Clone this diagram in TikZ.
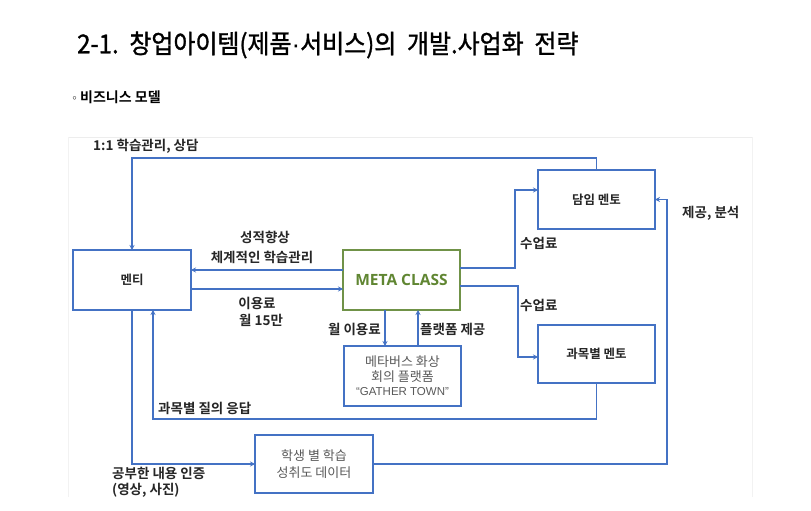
\documentclass[tikz,border=0pt]{standalone}
\usepackage{fontspec}
\setmainfont{Noto Sans CJK KR}[BoldFont={Noto Sans CJK KR Bold}]
\newfontfamily\titlefont{Noto Sans CJK KR}[FakeBold=1.2, FakeStretch=0.92]
\newfontfamily\latinfont{Liberation Sans}
\newfontfamily\metafont{Open Sans}[BoldFont={Open Sans Bold}]
\usetikzlibrary{arrows.meta,calc}
\definecolor{lineblue}{RGB}{68,114,196}
\definecolor{metagreen}{RGB}{112,146,72}
\definecolor{metatext}{RGB}{96,134,50}
\definecolor{labelgray}{RGB}{38,38,38}
\definecolor{boxgray}{RGB}{89,89,89}
\tikzset{
  blockbox/.style={draw=lineblue, line width=1.4pt, fill=white, minimum width=117pt, minimum height=59pt, inner sep=0pt, outer sep=0pt, align=center, font=\bfseries\fontsize{12.5}{15}\selectfont, text=labelgray},
  greybox/.style={blockbox, font=\fontsize{13}{14.5}\selectfont, text=boxgray},
  metabox/.style={blockbox, draw=metagreen, text=metatext, font=\metafont\bfseries\fontsize{15.5}{18}\selectfont},
  arr/.style={draw=lineblue, line width=1.4pt, -{Stealth[length=5pt,width=5pt]}},
  lbl/.style={font=\bfseries\fontsize{13.5}{15}\selectfont, text=labelgray, inner sep=0pt}
}
\begin{document}
\begin{tikzpicture}[x=1pt,y=-1pt]
\useasboundingbox (0,0) rectangle (811,511);
\fill[white] (0,0) rectangle (811,511);
% faint frame
\draw[black!7, line width=0.8pt] (68,137) -- (752,137);
\draw[black!5, line width=0.8pt] (68,137) -- (68,497) (752,137) -- (752,497);
% title
\node[anchor=west, inner sep=0pt, font=\titlefont\fontsize{26}{30}\selectfont] (title) at (77,45) {2-1.\ \ 창업아이템(제품{\latinfont ·}서비스)의\ \ 개발.사업화\ \ 전략};
\node[anchor=west, inner sep=0pt, font=\bfseries\fontsize{14}{16}\selectfont] (sub) at (69,97) {{\mdseries\fontsize{11}{12}\selectfont ◦}비즈니스 모델};
% boxes
\node[blockbox, minimum width=118pt, minimum height=60pt] (mentee) at (132,280) {멘티};
\node[metabox, minimum height=60pt] (meta) at (401.5,280) {META CLASS};
\node[blockbox] (hr) at (596.5,199.5) {담임 멘토};
\node[blockbox, minimum height=58pt] (subj) at (596.5,354) {과목별 멘토};
\node[greybox, minimum height=60pt] (gather) at (402.5,376) {메타버스 화상\\회의 플랫폼\\{\latinfont\fontsize{11.5}{14}\selectfont “GATHER TOWN”}};
\node[greybox, minimum width=118pt, minimum height=58pt, font=\fontsize{13}{17}\selectfont] (data) at (314,464) {학생 별 학습\\성취도 데이터};
% bend coordinates
\coordinate (c1) at (132,158);
\coordinate (j1) at (515,230);
\coordinate (j2) at (518,320);
\coordinate (c3) at (153,419);
\coordinate (c4) at (667,300);
% connectors
\draw[arr] (hr.north) |- (c1) -- (mentee.north);
\draw[arr] ([yshift=10pt]meta.west) -- ([yshift=10pt]mentee.east);
\draw[arr] ([yshift=-9pt]mentee.east) -- ([yshift=-9pt]meta.west);
\draw[arr] ([yshift=12pt]meta.east) -| (j1) |- ([yshift=9.5pt]hr.west);
\draw[arr] ([yshift=-6pt]meta.east) -| (j2) |- ([yshift=-3pt]subj.west);
\draw[arr] (subj.south) |- (c3) -- ([xshift=21pt]mentee.south);
\draw[arr] (data.east) -| (c4) |- (hr.east);
\draw[arr] (mentee.south) |- (data.west);
\draw[arr] ([xshift=-16.5pt]meta.south) -- ([xshift=-16.5pt]meta.south |- gather.north);
\draw[arr] ([xshift=15.5pt]gather.north) -- ([xshift=15.5pt]gather.north |- meta.south);
% labels
\node[lbl, anchor=west] (l1) at (93,146) {1:1 학습관리, 상담};
\node[lbl] (l2) at (265,237) {성적향상};
\node[lbl] (l3) at (262,257) {체계적인 학습관리};
\node[lbl] (l4) at (257,303) {이용료};
\node[lbl] (l5) at (261,320) {월 15만};
\node[lbl, anchor=west] (l6) at (520,243) {수업료};
\node[lbl, anchor=west] (l7) at (520,305) {수업료};
\node[lbl, anchor=west] (l8) at (158,408) {과목별 질의 응답};
\node[lbl, anchor=west] (l9) at (682,213) {제공, 분석};
\node[lbl, anchor=west] (l10) at (112,473) {공부한 내용 인증};
\node[lbl, anchor=west] (l11) at (112,490) {(영상, 사진)};
\node[lbl, anchor=east] (l12) at (381,329) {월 이용료};
\node[lbl, anchor=west] (l13) at (420,329) {플랫폼 제공};
\end{tikzpicture}
\end{document}
